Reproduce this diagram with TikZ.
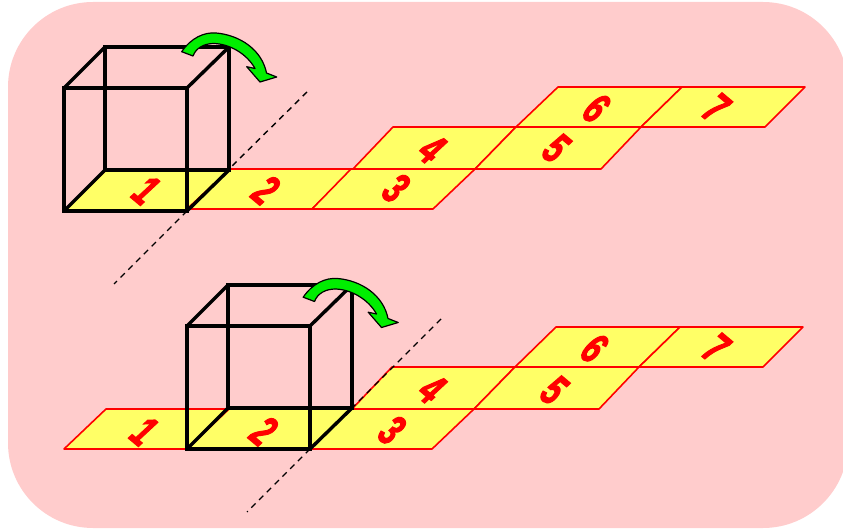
\documentclass[tikz,border=0pt]{standalone}
\usepackage{fontspec}
\newfontfamily\digitfont[FakeBold=3]{Liberation Sans Bold Italic}
\definecolor{bgpink}{HTML}{FFCCCC}
\definecolor{cellyellow}{HTML}{FFFF66}
\definecolor{arrowgreen}{HTML}{00EE00}
\tikzset{
  cell/.style={draw=red, fill=cellyellow, line width=1.6pt, line join=round},
  cubeline/.style={draw=black, line width=3.4pt, line join=miter},
  foldline/.style={draw=black, line width=1.4pt, dash pattern=on 6pt off 5pt},
  digit/.style={font=\digitfont\fontsize{36}{36}\selectfont, text=red, inner sep=0pt,
    rotate=-40, yscale=1.25, xscale=0.8, transform shape},
  cube/.pic={
    \draw[cubeline] (0,0) rectangle (123,-123);
    \draw[cubeline] (41,-41) rectangle (165,-164);
    \draw[cubeline] (0,0) -- (41,-41);
    \draw[cubeline] (123,0) -- (165,-41);
    \draw[cubeline] (0,-123) -- (41,-164);
    \draw[cubeline] (123,-123) -- (165,-164);
  },
  turnarrow/.pic={
    \draw[fill=arrowgreen, draw=black, line width=1.2pt, line join=round]
      (181.7,51.7) .. controls (191,38) and (204,32) .. (216,33)
      .. controls (240,35) and (262,50) .. (266.5,73)
      -- (276.7,77) -- (260,82) -- (246.7,66.7) -- (255,68.5)
      .. controls (247,54) and (230,44) .. (214,43.5)
      .. controls (204,43.5) and (196,48) .. (193,56) -- cycle;
  }
}
\begin{document}
\begin{tikzpicture}[x=1pt,y=-1pt]
  \clip (0,0) rectangle (843,529);
  \fill[bgpink] (8,2) [rounded corners=85pt] rectangle (848,528);

  %first net
  \foreach \a/\b/\c/\d in {
    64/211/187/211, 187/209/312/209, 312/209/433/209}
    \draw[cell] (\a,\b) -- (\c,\d) -- ++(42,-40) -- ++(-124,0) -- cycle;
  \draw[cell] (353,169) -- (475,169) -- (516,127) -- (393,127) -- cycle;
  \draw[cell] (475,169) -- (601,169) -- (641,127) -- (516,127) -- cycle;
  \draw[cell] (516,127) -- (641,127) -- (682,87) -- (558,87) -- cycle;
  \draw[cell] (641,127) -- (765,127) -- (805,87) -- (682,87) -- cycle;

  %second net
  \foreach \a/\c in {64/187, 187/310, 310/432}
    \draw[cell] (\a,449) -- (\c,449) -- ++(42,-40) -- ++(-123,0) -- cycle;
  \draw[cell] (352,409) -- (474,409) -- (515,367) -- (392,367) -- cycle;
  \draw[cell] (474,409) -- (599,409) -- (639,367) -- (515,367) -- cycle;
  \draw[cell] (515,367) -- (639,367) -- (680,327) -- (556,327) -- cycle;
  \draw[cell] (639,367) -- (763,367) -- (803,327) -- (680,327) -- cycle;

  %numbers
  \foreach \n/\x/\y in {1/146/190, 2/266/190, 3/396/188, 4/432/149, 5/556/148, 6/596/108, 7/716/108}
    \node[digit] (top\n) at (\x,\y) {\n};
  \foreach \n/\x/\y in {1/144/431, 2/264/431, 3/392/430, 4/432/389, 5/554/390, 6/594/348, 7/716/348}
    \node[digit] (low\n) at (\x,\y) {\n};

  %fold lines (hidden inside the cube)
  \draw[foldline] (307,92) -- (229,169);
  \draw[foldline] (187,211) -- (114,284);
  \draw[foldline] (441,319) -- (352,408);
  \draw[foldline] (310,449) -- (247,512);

  \pic at (64,211) {cube};
  \pic at (187,449) {cube};

  \pic at (0,0) {turnarrow};
  \pic at (121.5,245.5) {turnarrow};
\end{tikzpicture}
\end{document}
